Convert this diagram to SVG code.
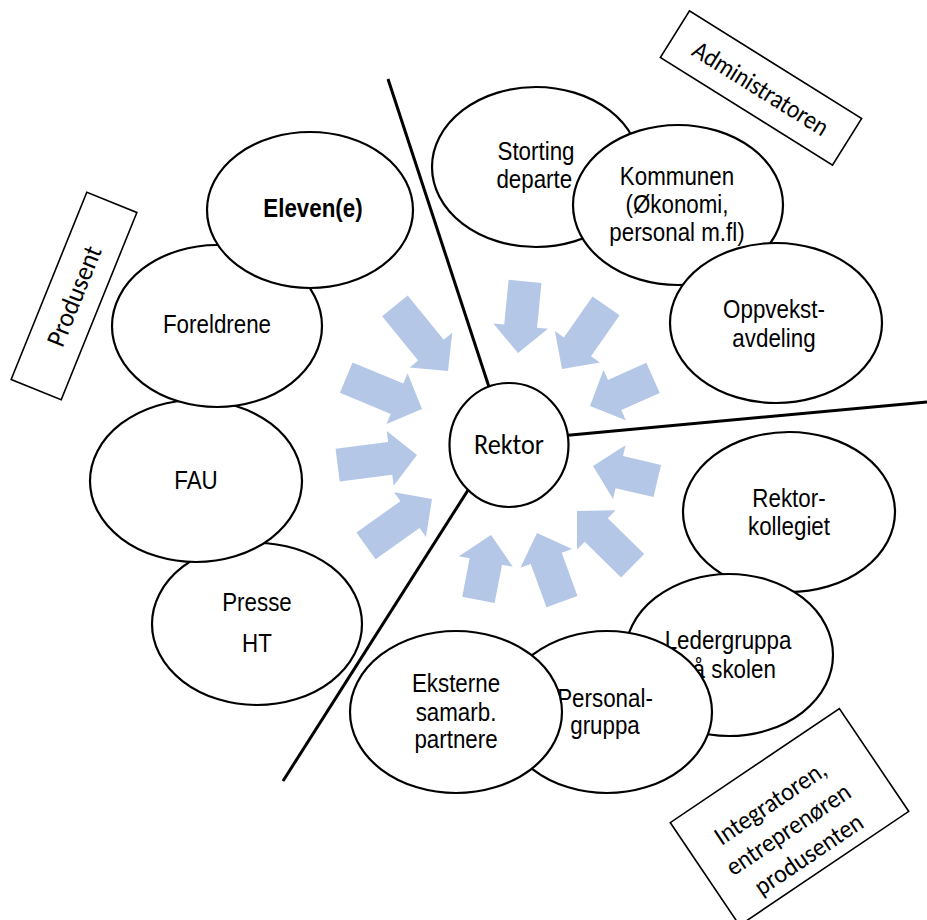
<svg xmlns="http://www.w3.org/2000/svg" width="927" height="920" viewBox="0 0 927 920">
  <style>
    .n { fill: #ffffff; stroke: #000000; stroke-width: 2.2; }
    .box { fill: #ffffff; stroke: #000000; stroke-width: 1.6; }
    .sep { stroke: #000000; stroke-width: 3; stroke-linecap: butt; fill: none; }
    .arw { fill: #B4C7E7; }
    .t { font-family: "Liberation Sans", Arial, sans-serif; font-size: 26px; text-anchor: middle; fill: #000000; }
    .b { font-weight: bold; }
    .c { font-family: Carlito, Calibri, Lato, "Noto Sans", sans-serif; text-anchor: middle; fill: #000000; }
  </style>
  <rect width="927" height="920" fill="#ffffff"/>

  <!-- block arrows pointing in towards the centre -->
  <g id="arrows" class="arw">
    <polygon transform="translate(518,353) rotate(95.6)" points="0,0 -27,-27.5 -27,-16.5 -72,-16.5 -72,16.5 -27,16.5 -27,27.5"/>
    <polygon transform="translate(562,369) rotate(124.9)" points="0,0 -27,-27.5 -27,-16.5 -77,-16.5 -77,16.5 -27,16.5 -27,27.5"/>
    <polygon transform="translate(590,406) rotate(156)" points="0,0 -27,-27.5 -27,-16.5 -69,-16.5 -69,16.5 -27,16.5 -27,27.5"/>
    <polygon transform="translate(593,466) rotate(-166.9)" points="0,0 -27,-27.5 -27,-16.5 -66,-16.5 -66,16.5 -27,16.5 -27,27.5"/>
    <polygon transform="translate(577,511) rotate(-135.5)" points="0,0 -27,-27.5 -27,-16.5 -78,-16.5 -78,16.5 -27,16.5 -27,27.5"/>
    <polygon transform="translate(537,533) rotate(-110)" points="0,0 -27,-27.5 -27,-16.5 -73,-16.5 -73,16.5 -27,16.5 -27,27.5"/>
    <polygon transform="translate(491,535) rotate(-79)" points="0,0 -27,-27.5 -27,-16.5 -66,-16.5 -66,16.5 -27,16.5 -27,27.5"/>
    <polygon transform="translate(432,499) rotate(-35.4)" points="0,0 -27,-27.5 -27,-16.5 -81,-16.5 -81,16.5 -27,16.5 -27,27.5"/>
    <polygon transform="translate(417,455) rotate(-7.2)" points="0,0 -27,-27.5 -27,-16.5 -80,-16.5 -80,16.5 -27,16.5 -27,27.5"/>
    <polygon transform="translate(422,409) rotate(22.5)" points="0,0 -27,-27.5 -27,-16.5 -82,-16.5 -82,16.5 -27,16.5 -27,27.5"/>
    <polygon transform="translate(448,371) rotate(50.8)" points="0,0 -27,-27.5 -27,-16.5 -84,-16.5 -84,16.5 -27,16.5 -27,27.5"/>
  </g>

  <!-- dividing lines from the centre -->
  <g id="connectors" class="sep">
    <line x1="388" y1="79" x2="490" y2="390"/>
    <line x1="560" y1="436" x2="927" y2="402"/>
    <line x1="470" y1="487" x2="283" y2="781"/>
  </g>

  <!-- centre -->
  <g id="rektor">
    <ellipse class="n" cx="509" cy="445" rx="59.5" ry="62"/>
    <text class="c" x="509" y="454" font-size="28" textLength="70" lengthAdjust="spacingAndGlyphs">Rektor</text>
  </g>

  <!-- left group -->
  <g id="presse">
    <ellipse class="n" cx="257" cy="624" rx="105" ry="81"/>
    <text class="t" transform="matrix(.86 0 0 1 257 0)"><tspan x="0" y="611">Presse</tspan><tspan x="0" y="652">HT</tspan></text>
  </g>
  <g id="fau">
    <ellipse class="n" cx="196" cy="481" rx="106" ry="81"/>
    <text class="t" transform="matrix(.86 0 0 1 196 0)" y="489">FAU</text>
  </g>
  <g id="foreldrene">
    <ellipse class="n" cx="217" cy="326" rx="105" ry="81"/>
    <text class="t" transform="matrix(.86 0 0 1 217 0)" y="333">Foreldrene</text>
  </g>
  <g id="eleven">
    <ellipse class="n" cx="310" cy="210" rx="103" ry="78"/>
    <text class="t b" transform="matrix(.86 0 0 1 313 0)" y="217">Eleven(e)</text>
  </g>

  <!-- upper right group -->
  <g id="storting">
    <ellipse class="n" cx="536" cy="167" rx="104" ry="80"/>
    <text class="t" transform="matrix(.86 0 0 1 536 0)"><tspan x="0" y="160">Storting</tspan><tspan x="-2" y="188">departe</tspan></text>
  </g>
  <g id="kommunen">
    <ellipse class="n" cx="678" cy="205" rx="105" ry="80"/>
    <text class="t" transform="matrix(.86 0 0 1 677 0)"><tspan x="0" y="185">Kommunen</tspan><tspan x="0" y="213">(Økonomi,</tspan><tspan x="0" y="241">personal m.fl)</tspan></text>
  </g>
  <g id="oppvekst">
    <ellipse class="n" cx="776" cy="323" rx="106" ry="80"/>
    <text class="t" transform="matrix(.86 0 0 1 774 0)"><tspan x="0" y="318">Oppvekst-</tspan><tspan x="0" y="347">avdeling</tspan></text>
  </g>

  <!-- lower right group -->
  <g id="rektorkollegiet">
    <ellipse class="n" cx="789" cy="512" rx="106" ry="80"/>
    <text class="t" transform="matrix(.86 0 0 1 789 0)"><tspan x="0" y="507">Rektor-</tspan><tspan x="0" y="535">kollegiet</tspan></text>
  </g>
  <g id="ledergruppa">
    <ellipse class="n" cx="729" cy="655" rx="104" ry="81"/>
    <text class="t" transform="matrix(.86 0 0 1 728 0)"><tspan x="0" y="649">Ledergruppa</tspan><tspan x="0" y="678">på skolen</tspan></text>
  </g>
  <g id="personalgruppa">
    <ellipse class="n" cx="607" cy="712" rx="105" ry="81"/>
    <text class="t" transform="matrix(.86 0 0 1 605 0)"><tspan x="0" y="707">Personal-</tspan><tspan x="0" y="734">gruppa</tspan></text>
  </g>
  <g id="eksterne">
    <ellipse class="n" cx="456" cy="712" rx="106" ry="81"/>
    <text class="t" transform="matrix(.86 0 0 1 456 0)"><tspan x="0" y="692">Eksterne</tspan><tspan x="0" y="721">samarb.</tspan><tspan x="0" y="748">partnere</tspan></text>
  </g>

  <!-- role labels -->
  <g id="administratoren" transform="translate(761,88) rotate(32)">
    <rect class="box" x="-101.5" y="-27.5" width="203" height="55"/>
    <text class="c" x="0" y="9" font-size="26" textLength="155" lengthAdjust="spacingAndGlyphs">Administratoren</text>
  </g>
  <g id="produsent" transform="translate(74,296) rotate(-68)">
    <rect class="box" x="-101" y="-27" width="202" height="54"/>
    <text class="c" x="0" y="9" font-size="27" textLength="106" lengthAdjust="spacingAndGlyphs">Produsent</text>
  </g>
  <g id="integratoren" transform="translate(789.5,817) rotate(-34)">
    <rect class="box" x="-102" y="-62" width="204" height="124"/>
    <text class="c" font-size="26">
      <tspan x="-5" y="-14" textLength="129" lengthAdjust="spacingAndGlyphs">Integratoren,</tspan>
      <tspan x="-5" y="18" textLength="144" lengthAdjust="spacingAndGlyphs">entreprenøren</tspan>
      <tspan x="-5" y="50" textLength="125" lengthAdjust="spacingAndGlyphs">produsenten</tspan>
    </text>
  </g>
</svg>
